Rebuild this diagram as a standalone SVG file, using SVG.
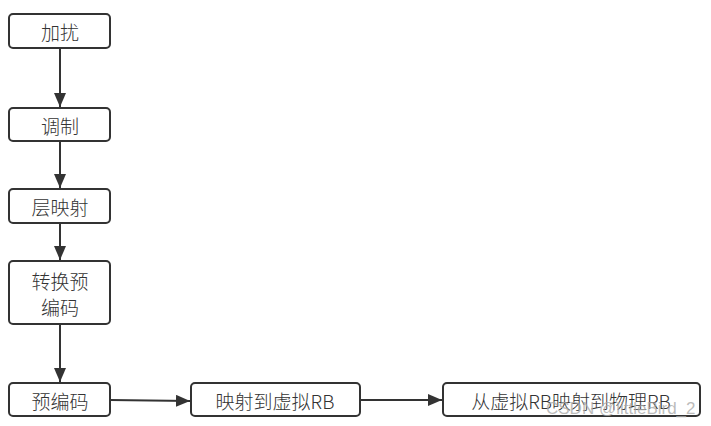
<svg xmlns="http://www.w3.org/2000/svg" width="711" height="426" viewBox="0 0 711 426">
<style>
.n rect{fill:#fff;stroke:#333;stroke-width:2}
.n text{font-family:"Noto Sans CJK SC","Liberation Sans",sans-serif;font-size:19px;font-weight:300;fill:#333;text-anchor:middle;dominant-baseline:central}
.c path{stroke:#333;stroke-width:2;fill:none}
.wm{font-family:"Liberation Sans",sans-serif;font-size:17px;fill:#aaa;fill-opacity:0.8}
</style>
<defs>
<marker id="ah" viewBox="0 0 14 12" refX="14" refY="6" markerWidth="14" markerHeight="12" orient="auto" markerUnits="userSpaceOnUse">
<path d="M0,0 L14,6 L0,12 z" fill="#333"/>
</marker>
</defs>
<rect width="711" height="426" fill="#fff"/>
<g class="c">
<path d="M60,48 V107" marker-end="url(#ah)"/>
<path d="M60,141 V188" marker-end="url(#ah)"/>
<path d="M60,223 V260" marker-end="url(#ah)"/>
<path d="M60,324 V382" marker-end="url(#ah)"/>
<path d="M110,400 L190,401" marker-end="url(#ah)"/>
<path d="M360,400 H442" marker-end="url(#ah)"/>
</g>
<g id="n1" class="n"><rect x="9" y="14" width="101" height="34" rx="4"/><text x="60" y="31">加扰</text></g>
<g id="n2" class="n"><rect x="9" y="108" width="101" height="33" rx="4"/><text x="60" y="125">调制</text></g>
<g id="n3" class="n"><rect x="9" y="189" width="101" height="34" rx="4"/><text x="60" y="206">层映射</text></g>
<g id="n4" class="n"><rect x="9" y="261" width="101" height="63" rx="4"/><text x="60" y="280">转换预</text><text x="60" y="306">编码</text></g>
<g id="n5" class="n"><rect x="9" y="383" width="101" height="33" rx="4"/><text x="60" y="400">预编码</text></g>
<g id="n6" class="n"><rect x="191" y="383" width="169" height="33" rx="4"/><text x="275" y="400">映射到虚拟RB</text></g>
<g id="n7" class="n"><rect x="443" y="383" width="257" height="33" rx="4"/><text x="571" y="400">从虚拟RB映射到物理RB</text></g>
<text class="wm" x="546" y="414">CSDN @littleBird_2</text>
</svg>
